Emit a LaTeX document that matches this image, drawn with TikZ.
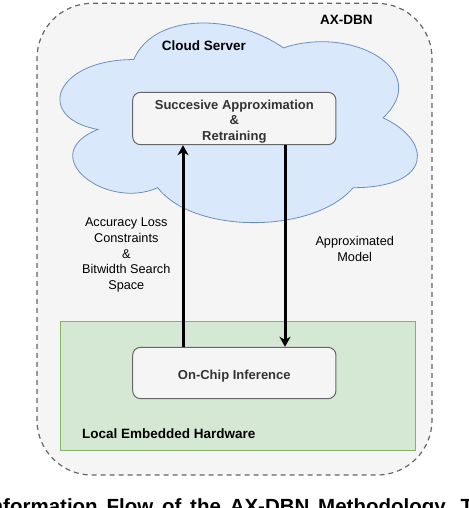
\documentclass[tikz,border=0pt]{standalone}
\usepackage{fontspec}
\setmainfont{Liberation Sans}
\usetikzlibrary{arrows.meta}
\definecolor{boxfill}{HTML}{F5F5F5}
\definecolor{boxline}{HTML}{666666}
\definecolor{cloudfill}{HTML}{DAE8FC}
\definecolor{cloudline}{HTML}{6C8EBF}
\definecolor{greenfill}{HTML}{D5E8D4}
\definecolor{greenline}{HTML}{82B366}
\definecolor{boxtext}{HTML}{333333}
\tikzset{
  container/.style={draw=boxline, fill=boxfill, line width=1.2pt, dash pattern=on 5pt off 4pt, rounded corners=55pt, inner sep=0pt},
  hwarea/.style={draw=greenline, fill=greenfill, line width=1pt, inner sep=0pt},
  procbox/.style={draw=boxline, fill=boxfill, line width=1pt, rounded corners=8pt, inner sep=0pt, text=boxtext, align=center, font=\fontsize{13}{15.5}\selectfont\bfseries},
  title/.style={font=\fontsize{13.5}{16}\selectfont\bfseries, text=black, inner sep=0pt},
  edgelabel/.style={font=\fontsize{12.7}{15.7}\selectfont, text=black, align=center, inner sep=0pt},
  flow/.style={line width=3pt, draw=black, -{Stealth[length=10pt,width=11pt,inset=3pt]}},
  captionstyle/.style={anchor=base west, inner sep=0pt, font=\fontsize{20.5}{24}\selectfont\bfseries},
}
\begin{document}
\begin{tikzpicture}[x=1pt,y=-1pt]
\useasboundingbox (0,0) rectangle (468,508);
% outer container
\node[container, minimum width=395pt, minimum height=471.7pt] (axdbn) at (234.5,239.2) {};
\node[title, anchor=center] (axdbnlabel) at (346.3,20.3) {AX-DBN};
% cloud
\draw[draw=cloudline, fill=cloudfill, line width=0.8pt]
  (133.75,59.55) .. controls (53.95,59.55) and (34,117.8) .. (97.84,129.45)
  .. controls (34,155.08) and (105.82,211) .. (157.69,187.7)
  .. controls (193.6,234.3) and (313.3,234.3) .. (353.2,187.7)
  .. controls (433,187.7) and (433,141.1) .. (383.1,117.8)
  .. controls (433,71.2) and (353.2,24.6) .. (283.4,47.9)
  .. controls (233.5,12.95) and (153.7,12.95) .. (133.75,59.55) -- cycle;
\node[title, anchor=center] (cloudlabel) at (203.8,45.5) {Cloud Server};
% local hardware area
\node[hwarea, minimum width=354.7pt, minimum height=129.3pt] (hw) at (238.3,385.7) {};
\node[title, anchor=west] (hwlabel) at (82,433.5) {Local Embedded Hardware};
% process boxes
\node[procbox, minimum width=203.3pt, minimum height=52.4pt] (approx) at (234.3,118.5) {\rule{0pt}{15.3pt}Succesive Approximation\\\&\\Retraining};
\node[procbox, minimum width=203.3pt, minimum height=51.4pt] (onchip) at (234.3,373) {\rule{0pt}{15.5pt}On-Chip Inference};
% connectors
\coordinate (upx) at (183,0);
\coordinate (downx) at (285,0);
\draw[flow] (onchip.north -| upx) -- (approx.south -| upx);
\draw[flow] (approx.south -| downx) -- (onchip.north -| downx);
\node[edgelabel] (leftlabel) at (126.3,255) {Accuracy Loss\\Constraints\\\&\\Bitwidth Search\\Space};
\node[edgelabel] (rightlabel) at (354.7,249) {Approximated\\Model};
% clipped caption
\node[captionstyle] (caption) at (-15.2,513.5) {\spaceskip=8.8pt\relax Information Flow of the AX-DBN Methodology. The};
\end{tikzpicture}
\end{document}
